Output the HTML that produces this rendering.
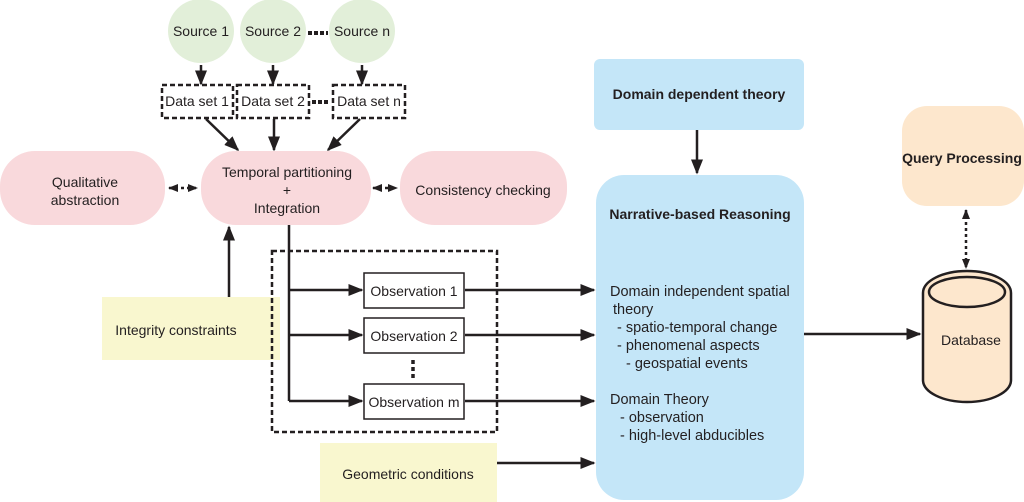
<!DOCTYPE html>
<html><head><meta charset="utf-8"><style>
html,body{margin:0;padding:0;background:#fff;}
svg{display:block;font-family:"Liberation Sans",sans-serif;}
</style></head><body>
<svg width="1024" height="502" viewBox="0 0 1024 502" xmlns="http://www.w3.org/2000/svg">
<defs>
<marker id="a" viewBox="0 0 10 10" refX="9" refY="5" markerWidth="6" markerHeight="6" orient="auto-start-reverse"><path d="M0,1 L10,5 L0,9 z" fill="#231f20"/></marker>
<marker id="s" viewBox="0 0 10 10" refX="9" refY="5" markerWidth="4" markerHeight="4" orient="auto-start-reverse"><path d="M0,1 L10,5 L0,9 z" fill="#231f20"/></marker>
</defs>
<g font-size="14" fill="#231f20" text-anchor="middle">
<!-- sources -->
<ellipse cx="201" cy="31" rx="33" ry="32" fill="#e2efd9"/>
<ellipse cx="273" cy="31" rx="33" ry="32" fill="#e2efd9"/>
<ellipse cx="362" cy="31" rx="33" ry="32" fill="#e2efd9"/>
<text x="201" y="36">Source 1</text>
<text x="273" y="36">Source 2</text>
<text x="362" y="36">Source n</text>
<line x1="308" y1="33" x2="328" y2="33" stroke="#231f20" stroke-width="4" stroke-dasharray="4,2"/>
<g stroke="#231f20" stroke-width="2.5" marker-end="url(#a)">
<line x1="201" y1="65" x2="201" y2="84"/>
<line x1="273" y1="65" x2="273" y2="84"/>
<line x1="362" y1="65" x2="362" y2="84"/>
</g>
<!-- data sets -->
<g fill="none" stroke="#231f20" stroke-width="2.5" stroke-dasharray="5,3">
<rect x="162" y="85" width="71" height="33"/>
<rect x="237" y="85" width="72" height="33"/>
<rect x="333" y="85" width="72" height="33"/>
</g>
<text x="197" y="106">Data set 1</text>
<text x="273" y="106">Data set 2</text>
<text x="369" y="106">Data set n</text>
<line x1="312" y1="102" x2="330" y2="102" stroke="#231f20" stroke-width="4" stroke-dasharray="4,2"/>
<g stroke="#231f20" stroke-width="2.5" marker-end="url(#a)">
<line x1="206" y1="119" x2="238" y2="150"/>
<line x1="274" y1="119" x2="274" y2="150"/>
<line x1="360" y1="119" x2="328" y2="150"/>
</g>
<!-- pink row -->
<rect x="0" y="151" width="165" height="74" rx="35" fill="#f9d9dc"/>
<rect x="201" y="151" width="170" height="74" rx="35" fill="#f9d9dc"/>
<rect x="400" y="151" width="167" height="74" rx="35" fill="#f9d9dc"/>
<text x="85" y="187">Qualitative</text>
<text x="85" y="205">abstraction</text>
<text x="287" y="177">Temporal partitioning</text>
<text x="287" y="195">+</text>
<text x="287" y="213">Integration</text>
<text x="483" y="195">Consistency checking</text>
<g stroke="#231f20" stroke-width="2.5" stroke-dasharray="3,3" marker-start="url(#s)" marker-end="url(#s)">
<line x1="169" y1="188" x2="197" y2="188"/>
<line x1="373" y1="188" x2="397" y2="188"/>
</g>
<!-- integrity -->
<rect x="102" y="297" width="178" height="63" fill="#f9f7cf"/>
<text x="176" y="335">Integrity constraints</text>
<line x1="229" y1="297" x2="229" y2="227" stroke="#231f20" stroke-width="2.5" marker-end="url(#a)"/>
<!-- observations -->
<rect x="272" y="251" width="225" height="181" fill="none" stroke="#231f20" stroke-width="2.5" stroke-dasharray="5,3"/>
<polyline points="289,225 289,401" fill="none" stroke="#231f20" stroke-width="2.5"/>
<g stroke="#231f20" stroke-width="2.5" marker-end="url(#a)">
<line x1="289" y1="290" x2="362" y2="290"/>
<line x1="289" y1="335" x2="362" y2="335"/>
<line x1="289" y1="401" x2="362" y2="401"/>
<line x1="465" y1="290" x2="594" y2="290"/>
<line x1="465" y1="335" x2="594" y2="335"/>
<line x1="465" y1="401" x2="594" y2="401"/>
<line x1="497" y1="463" x2="594" y2="463"/>
</g>
<g fill="#fff" stroke="#231f20" stroke-width="1.5">
<rect x="364" y="273" width="100" height="35"/>
<rect x="364" y="318" width="100" height="35"/>
<rect x="364" y="384" width="100" height="35"/>
</g>
<text x="414" y="296">Observation 1</text>
<text x="414" y="341">Observation 2</text>
<text x="414" y="407">Observation m</text>
<line x1="413" y1="360" x2="413" y2="378" stroke="#231f20" stroke-width="3.5" stroke-dasharray="4,3"/>
<!-- geometric -->
<rect x="320" y="443" width="177" height="59" fill="#f9f7cf"/>
<text x="408" y="479">Geometric conditions</text>
<!-- domain dependent -->
<rect x="594" y="59" width="210" height="71" rx="6" fill="#c4e6f8"/>
<text x="699" y="99" font-weight="bold">Domain dependent theory</text>
<line x1="697" y1="130" x2="697" y2="173" stroke="#231f20" stroke-width="2.5" marker-end="url(#a)"/>
<!-- narrative -->
<rect x="596" y="175" width="208" height="325" rx="28" fill="#c4e6f8"/>
<text x="700" y="219" font-weight="bold">Narrative-based Reasoning</text>
<g text-anchor="start" font-size="14.5">
<text x="610" y="296">Domain independent spatial</text>
<text x="613" y="314">theory</text>
<text x="617" y="332">- spatio-temporal change</text>
<text x="617" y="350">- phenomenal aspects</text>
<text x="626" y="368">- geospatial events</text>
<text x="610" y="404">Domain Theory</text>
<text x="620" y="422">- observation</text>
<text x="620" y="440">-  high-level abducibles</text>
</g>
<line x1="804" y1="334" x2="920" y2="334" stroke="#231f20" stroke-width="2.5" marker-end="url(#a)"/>
<!-- database -->
<path d="M923,293 A44,22 0 0 1 1011,293 L1011,380 A44,22 0 0 1 923,380 Z" fill="#fde7cd" stroke="#231f20" stroke-width="2.5"/>
<ellipse cx="967" cy="292" rx="38" ry="15" fill="#fde7cd" stroke="#231f20" stroke-width="2.5"/>
<text x="971" y="345">Database</text>
<!-- query -->
<rect x="902" y="106" width="122" height="100" rx="25" fill="#fde7cd"/>
<text x="962" y="163" font-weight="bold">Query Processing</text>
<line x1="966" y1="210" x2="966" y2="268" stroke="#231f20" stroke-width="2.5" stroke-dasharray="3,3" marker-start="url(#s)" marker-end="url(#s)"/>
</g>
</svg>
</body></html>
